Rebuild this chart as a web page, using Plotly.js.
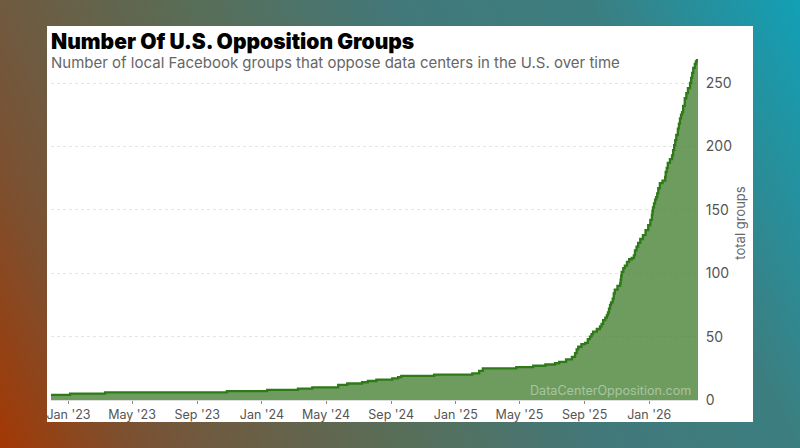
<!DOCTYPE html>
<html><head><meta charset="utf-8">
<script src="https://cdn.plot.ly/plotly-3.0.1.min.js"></script>
<style>
html,body{margin:0;padding:0;width:800px;height:448px;overflow:hidden}
body{background:linear-gradient(65deg,#a33804 0%,#7c5030 13%,#6f5a40 21%,#586e58 40%,#42787a 60%,#3c7e80 79%,#12a0b6 100%)}
#chart{position:absolute;left:47px;top:26px;width:706px;height:396px;background:#fff}
</style></head><body><div id="chart"></div>
<script>
const dates=["2022-11-29","2023-01-04","2023-03-11","2023-10-27","2024-01-11","2024-03-09","2024-04-05","2024-05-24","2024-06-10","2024-07-08","2024-07-19","2024-08-04","2024-09-03","2024-09-14","2024-09-20","2024-11-21","2025-02-01","2025-02-14","2025-02-21","2025-04-25","2025-05-27","2025-06-19","2025-07-07","2025-07-15","2025-07-28","2025-08-08","2025-08-14","2025-08-17","2025-08-20","2025-08-26","2025-09-02","2025-09-07","2025-09-11","2025-09-14","2025-09-17","2025-09-24","2025-09-30","2025-10-03","2025-10-06","2025-10-10","2025-10-13","2025-10-15","2025-10-17","2025-10-19","2025-10-21","2025-10-24","2025-10-26","2025-10-28","2025-11-02","2025-11-07","2025-11-08","2025-11-09","2025-11-10","2025-11-13","2025-11-16","2025-11-20","2025-11-24","2025-11-29","2025-12-03","2025-12-05","2025-12-08","2025-12-11","2025-12-15","2025-12-20","2025-12-25","2025-12-30","2026-01-03","2026-01-06","2026-01-07","2026-01-08","2026-01-10","2026-01-12","2026-01-14","2026-01-16","2026-01-18","2026-01-21","2026-01-26","2026-01-31","2026-02-01","2026-02-03","2026-02-05","2026-02-09","2026-02-13","2026-02-15","2026-02-17","2026-02-19","2026-02-21","2026-02-24","2026-02-26","2026-02-28","2026-03-02","2026-03-04","2026-03-06","2026-03-09","2026-03-12","2026-03-15","2026-03-19","2026-03-21","2026-03-23","2026-03-25","2026-03-28","2026-03-30","2026-04-01","2026-04-03"];
const totalGroups=[4,5,6,7,8,9,10,12,13,14,15,16,17,18,19,20,21,23,25,26,27,28,29,30,32,34,37,40,42,44,45,48,50,52,54,56,58,60,63,65,67,69,72,75,77,80,84,87,90,92,95,98,101,104,106,109,111,112,114,118,121,124,127,130,134,138,142,146,149,152,155,158,160,163,167,171,173,176,180,183,187,190,193,197,201,205,209,214,218,222,225,227,232,238,242,246,250,254,258,262,265,267,268,269];
const xTickVals=["2023-01-01","2023-05-01","2023-09-01","2024-01-01","2024-05-01","2024-09-01","2025-01-01","2025-05-01","2025-09-01","2026-01-01"];
const xTickText=["Jan '23","May '23","Sep '23","Jan '24","May '24","Sep '24","Jan '25","May '25","Sep '25","Jan '26"];
const yTicks=[0,50,100,150,200,250];
const titleText="Number Of U.S. Opposition Groups";
const subtitleText="Number of local Facebook groups that oppose data centers in the U.S. over time";
const watermark="DataCenterOpposition.com";
const font="Inter, 'Liberation Sans', sans-serif";
Plotly.newPlot('chart',[{
  type:'scatter',mode:'lines',x:dates,y:totalGroups,
  line:{shape:'hv',color:'#2e7a18',width:2.3},
  fill:'tozeroy',fillcolor:'rgba(78,134,60,0.82)',hoverinfo:'x+y'
}],{
  width:706,height:396,paper_bgcolor:'#fff',plot_bgcolor:'#fff',showlegend:false,
  margin:{l:4,r:55,t:20,b:22,pad:0},
  font:{family:font,color:'#555'},
  title:{text:titleText,x:0,xanchor:'left',xref:'paper',y:1-15.5/396,yanchor:'middle',yref:'container',
    font:{family:font,size:21,weight:900,color:'#000'}},
  annotations:[
    {text:subtitleText,xref:'paper',yref:'paper',x:0,xanchor:'left',y:1.0,yshift:-16,yanchor:'middle',showarrow:false,font:{family:font,size:15,color:'#666'},xshift:-2},
    {text:watermark,xref:'paper',yref:'paper',x:1,xanchor:'right',xshift:-5,y:0,yshift:10,yanchor:'middle',showarrow:false,font:{family:font,size:12.6,color:'rgba(255,255,255,0.42)'}}
  ],
  xaxis:{type:'date',range:["2022-11-29","2026-04-03"],tickmode:'array',tickvals:xTickVals,ticktext:xTickText,
    ticks:'outside',ticklen:3,tickcolor:'#888',tickwidth:1,showgrid:false,zeroline:false,showline:true,linecolor:'#ddd',
    ticklabeloverflow:'allow',tickfont:{family:font,size:12.5,color:'#555'},fixedrange:true},
  yaxis:{side:'right',range:[0,279.2],tickmode:'array',tickvals:yTicks,ticks:'outside',ticklen:4,tickcolor:'rgba(0,0,0,0)',
    showgrid:true,griddash:'dot',gridcolor:'#e4e4e4',gridwidth:1,zeroline:false,showline:false,
    tickfont:{family:font,size:14,color:'#555'},
    title:{text:'total groups',font:{family:font,size:13,color:'#666'},standoff:4},fixedrange:true}
},{displayModeBar:false});
</script></body></html>
